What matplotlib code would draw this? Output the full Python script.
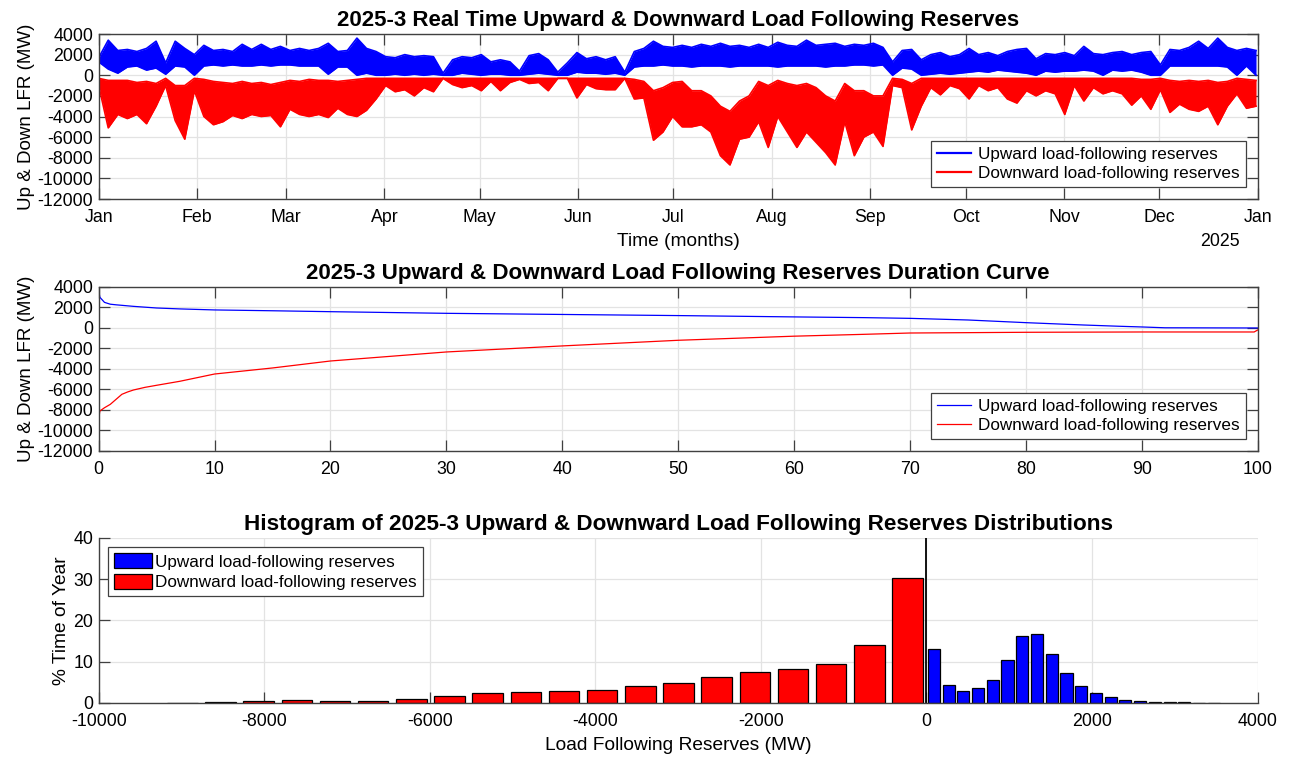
import matplotlib
matplotlib.use('Agg')
import matplotlib.pyplot as plt
import numpy as np
import pandas as pd
from datetime import datetime

plt.rcParams['font.family'] = ['Liberation Sans', 'DejaVu Sans']
plt.rcParams['axes.unicode_minus'] = False

# ---- top panel: 3-day envelopes of the hourly reserves (MW), Jan 1 .. Dec 31 ----
up_hi = [1700, 3400, 2400, 2500, 2300, 2600, 3300, 1200, 3300, 2600,
         2000, 2900, 2400, 2500, 2300, 3000, 2500, 3000, 2500, 2800,
         2400, 2600, 2400, 2600, 3100, 2300, 2400, 3600, 2600, 2300,
         1800, 1700, 2000, 1800, 1900, 1800, 200, 1500, 1800, 1700,
         2000, 1300, 1500, 1300, 400, 1900, 2100, 1500, 300, 1200,
         2200, 1600, 1800, 1500, 1800, 300, 2300, 2600, 3300, 2800,
         2700, 2900, 2700, 3000, 2800, 3100, 2800, 2900, 2700, 3000,
         2700, 3200, 2900, 2800, 3400, 2900, 3000, 3100, 2800, 3000,
         2900, 3100, 2700, 1300, 2400, 2500, 1500, 2000, 2200, 1800,
         2000, 2600, 2000, 2200, 1900, 2300, 2500, 2600, 1600, 2100,
         2000, 2200, 1900, 2800, 2100, 2000, 2200, 2300, 2000, 2200,
         2300, 1000, 2500, 2400, 2700, 3300, 2600, 3600, 2700, 2400,
         2600, 2400]
up_lo = [1300, 600, 200, 800, 900, 500, 700, 100, 900, 800,
         0, 900, 1000, 900, 1000, 900, 900, 1000, 900, 1000,
         1000, 900, 900, 900, 100, 800, 800, 0, 200, 0,
         0, 100, 0, 100, 0, 100, 0, 0, 200, 100,
         0, 100, 100, 0, 0, 100, 200, 100, 0, 0,
         300, 200, 200, 100, 200, 0, 800, 900, 900, 1000,
         900, 900, 800, 900, 900, 900, 800, 900, 900, 900,
         900, 800, 900, 900, 900, 900, 800, 900, 900, 1000,
         1000, 900, 1000, 0, 700, 600, 0, 100, 200, 100,
         200, 300, 400, 300, 500, 400, 300, 200, 0, 400,
         300, 400, 400, 500, 400, 0, 500, 400, 500, 300,
         0, 0, 900, 900, 900, 900, 900, 900, 800, 0,
         900, 0]
dn_hi = [-300, -500, -500, -500, -700, -600, -800, -300, -1000, -1000,
         -300, -400, -600, -700, -800, -600, -800, -700, -900, -700,
         -500, -600, -400, -500, -500, -600, -500, -400, -300, -300,
         -300, -300, -300, -300, -300, -300, -300, -300, -300, -300,
         -300, -300, -300, -300, -300, -300, -300, -300, -300, -300,
         -300, -300, -300, -300, -300, -300, -400, -600, -1500, -1200,
         -700, -600, -1500, -1500, -2000, -3000, -3500, -2500, -2000, -600,
         -1000, -500, -800, -1000, -800, -1200, -2000, -2500, -800, -1500,
         -1500, -2000, -2000, -300, -400, -800, -300, -300, -300, -300,
         -300, -300, -300, -300, -300, -300, -300, -300, -300, -300,
         -300, -300, -300, -300, -300, -300, -300, -300, -300, -400,
         -400, -300, -500, -600, -500, -600, -500, -700, -600, -300,
         -400, -500]
dn_lo = [-1000, -5100, -3800, -4200, -3800, -4700, -3000, -1000, -4400, -6200,
         -1500, -4000, -4800, -4500, -3900, -4200, -3800, -4000, -3900, -5000,
         -3300, -3800, -4000, -3800, -4100, -3200, -3800, -4000, -3400, -2300,
         -1000, -1600, -1400, -2000, -1200, -1600, -300, -900, -1200, -1000,
         -1500, -600, -1500, -700, -400, -800, -700, -1500, -300, -300,
         -2200, -900, -1300, -1400, -1400, -300, -2300, -2200, -6300, -5500,
         -4000, -5000, -5000, -4800, -5500, -7800, -8700, -6200, -6000, -4500,
         -7000, -4000, -5500, -7000, -5500, -6500, -7500, -8700, -4500, -7800,
         -6000, -5500, -6900, -1000, -1200, -5300, -3000, -1200, -1900, -1000,
         -1300, -2300, -1000, -1500, -1200, -2300, -2700, -1500, -2000, -1500,
         -1800, -3800, -1000, -2500, -1200, -1800, -1500, -1800, -2900, -2000,
         -3300, -1400, -3600, -2800, -3300, -3500, -3000, -4800, -3000, -1800,
         -3200, -3000]
times = pd.date_range('2025-01-01', '2025-12-31 12:00', periods=len(up_hi))
month_labels = ['Jan', 'Feb', 'Mar', 'Apr', 'May', 'Jun', 'Jul', 'Aug',
                'Sep', 'Oct', 'Nov', 'Dec', 'Jan']

# ---- middle panel: duration curves ----
up_dur_pct = [0, 0.1, 0.5, 1, 1.5, 2, 2.5, 3, 4, 5, 7, 10, 15, 20, 30, 40, 50,
              60, 66, 70, 75, 80, 85, 88, 90, 92, 100]
up_dur = [3650, 3000, 2500, 2320, 2260, 2210, 2160, 2110, 2030, 1950, 1860,
          1760, 1680, 1590, 1430, 1320, 1210, 1080, 1010, 940, 780, 520, 290,
          170, 100, 20, 0]
dn_dur_pct = [0, 0.1, 0.5, 1, 1.5, 2, 2.5, 3, 4, 5, 7, 10, 15, 20, 30, 40, 50,
              60, 66, 70, 80, 90, 99.7, 100]
dn_dur = [-8900, -8100, -7780, -7450, -6960, -6470, -6240, -6050, -5790, -5590,
          -5200, -4490, -3900, -3220, -2340, -1750, -1200, -800, -620, -490,
          -420, -390, -390, -200]

# ---- bottom panel: histograms (% of year per bin) ----
up_bin_width = 178
up_pct = [13.0, 4.4, 3.0, 3.7, 5.5, 10.3, 16.3, 16.7, 11.8, 7.3,
          4.2, 2.3, 1.5, 0.8, 0.55, 0.3, 0.2, 0.15, 0.1, 0.1]
dn_bin_width = 461
dn_pct = [30.4, 13.95, 9.5, 8.15, 7.6, 6.4, 4.85, 4.1, 3.2, 3.0,
          2.6, 2.3, 1.7, 1.0, 0.55, 0.55, 0.7, 0.4, 0.25, 0.1]

up_label = 'Upward load-following reserves'
dn_label = 'Downward load-following reserves'
axis_col = '#404040'
grid_col = '#e3e3e3'


def style(ax, box=True):
    ax.set_axisbelow(True)
    ax.grid(True, color=grid_col, lw=0.9)
    for s in ax.spines.values():
        s.set_color(axis_col)
        s.set_linewidth(1.0)
    if not box:
        ax.spines['top'].set_visible(False)
        ax.spines['right'].set_visible(False)
    ax.tick_params(direction='in', length=8, width=0.9, color=axis_col,
                   labelsize=12.8, top=box, right=box)
    ax.tick_params(axis='x', pad=7.5)
    ax.tick_params(axis='y', pad=4)


fig = plt.figure(figsize=(12.9, 7.59), dpi=100)
legend_kw = dict(fontsize=12.3, fancybox=False, edgecolor=axis_col,
                 framealpha=1, borderpad=0.35, labelspacing=0.25)

# top
ax1 = fig.add_axes([0.0765, 0.7378, 0.8984, 0.2174])
ax1.fill_between(times, up_lo, up_hi, color='blue', lw=0)
ax1.fill_between(times, dn_lo, dn_hi, color='red', lw=0)
l_up, = ax1.plot(times, up_hi, color='blue', lw=1.2)
ax1.plot(times, up_lo, color='blue', lw=1.2)
l_dn, = ax1.plot(times, dn_lo, color='red', lw=1.2)
ax1.plot(times, dn_hi, color='red', lw=1.2)
ax1.set_xlim(datetime(2025, 1, 1), datetime(2026, 1, 1))
ax1.set_ylim(-12000, 4000)
ax1.set_yticks(np.arange(-12000, 4001, 2000))
ticks = [datetime(2025, m, 1) for m in range(1, 13)] + [datetime(2026, 1, 1)]
ax1.set_xticks(ticks)
ax1.set_xticklabels(month_labels)
style(ax1)
ax1.set_title('2025-3 Real Time Upward & Downward Load Following Reserves',
              fontsize=16, fontweight='bold', pad=6)
ax1.set_ylabel('Up & Down LFR (MW)', fontsize=13.5, labelpad=2)
ax1.set_xlabel('Time (months)', fontsize=13.8, labelpad=5)
ax1.text(0.985, -0.255, '2025', transform=ax1.transAxes, ha='right',
         va='center', fontsize=12.8)
leg = ax1.legend([l_up, l_dn], [up_label, dn_label], loc='lower right',
                 handlelength=2.0, borderaxespad=0.7, handletextpad=0.4,
                 **legend_kw)
leg.get_frame().set_linewidth(0.9)
for ln in leg.get_lines():
    ln.set_linewidth(1.6)

# middle
ax2 = fig.add_axes([0.0765, 0.4058, 0.8984, 0.2161])
ax2.plot(up_dur_pct, up_dur, color='blue', lw=0.9, label=up_label)
ax2.plot(dn_dur_pct, dn_dur, color='red', lw=0.9, label=dn_label)
ax2.set_xlim(0, 100)
ax2.set_ylim(-12000, 4000)
ax2.set_xticks(np.arange(0, 101, 10))
ax2.set_yticks(np.arange(-12000, 4001, 2000))
style(ax2)
ax2.set_title('2025-3 Upward & Downward Load Following Reserves Duration Curve',
              fontsize=16.1, fontweight='bold', pad=6)
ax2.set_ylabel('Up & Down LFR (MW)', fontsize=13.5, labelpad=2)
ax2.legend(loc='lower right', handlelength=2.0, borderaxespad=0.7,
           handletextpad=0.4, **legend_kw).get_frame().set_linewidth(0.9)

# bottom
ax3 = fig.add_axes([0.0765, 0.0738, 0.8984, 0.2174])
up_centers = (np.arange(len(up_pct)) + 0.5) * up_bin_width
dn_centers = -(np.arange(len(dn_pct)) + 0.5) * dn_bin_width
ax3.bar(up_centers, up_pct, width=0.82 * up_bin_width, color='blue',
        edgecolor='black', lw=0.9, label=up_label)
ax3.bar(dn_centers, dn_pct, width=0.8 * dn_bin_width, color='red',
        edgecolor='black', lw=0.9, label=dn_label)
ax3.axvline(0, ymin=0, ymax=1, color='black', lw=1.3)
ax3.set_xlim(-10000, 4000)
ax3.set_ylim(0, 40)
ax3.set_xticks(np.arange(-10000, 4001, 2000))
ax3.set_yticks(np.arange(0, 41, 10))
style(ax3, box=False)
ax3.set_title('Histogram of 2025-3 Upward & Downward Load Following Reserves Distributions',
              fontsize=16.2, fontweight='bold', pad=6)
ax3.set_ylabel('% Time of Year', fontsize=13.8, labelpad=2)
ax3.set_xlabel('Load Following Reserves (MW)', fontsize=13.8, labelpad=5)
ax3.legend(loc='upper left', handlelength=2.2, handleheight=0.95,
           borderaxespad=0.55, handletextpad=0.2,
           **legend_kw).get_frame().set_linewidth(0.9)

fig.savefig('out.png', dpi=100)
